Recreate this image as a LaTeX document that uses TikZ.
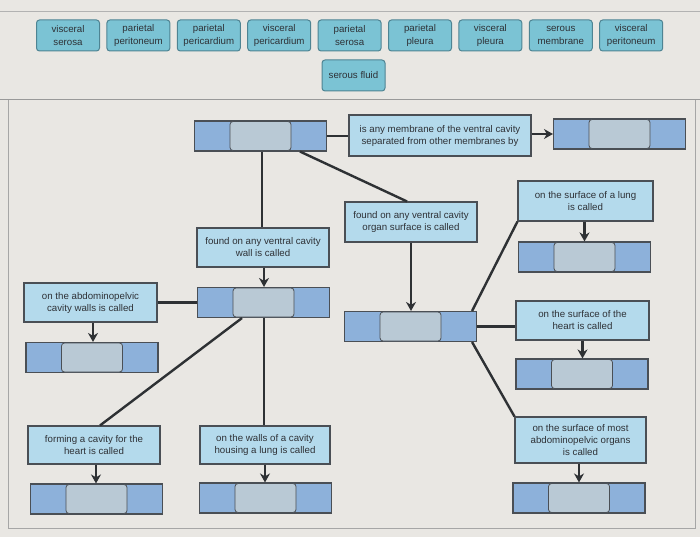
\documentclass[tikz,border=0pt]{standalone}
\usepackage{fontspec}
\setmainfont{Liberation Sans}
\usetikzlibrary{arrows.meta}
\definecolor{bg}{HTML}{E9E7E3}
\definecolor{tilefill}{HTML}{7BC3D4}
\definecolor{tileline}{HTML}{4E8493}
\definecolor{txtfill}{HTML}{B4DAEC}
\definecolor{ansout}{HTML}{8DB1DA}
\definecolor{ansin}{HTML}{B9C9D5}
\definecolor{edge}{HTML}{4A4F55}
\definecolor{wire}{HTML}{2E3134}
\definecolor{ink}{HTML}{2E3136}
\tikzset{
  tile/.style={draw=tileline, fill=tilefill, rounded corners=3pt, line width=1pt,
    minimum width=63pt, minimum height=31pt, inner sep=1pt, align=center,
    font=\fontsize{9.7}{12.5}\selectfont, text=ink},
  txtbox/.style={draw=edge, fill=txtfill, line width=1.1pt, inner sep=1pt, align=center,
    font=\fontsize{9.7}{12}\selectfont, text=ink},
  ansbox/.style={draw=edge, fill=ansout, line width=1.1pt, minimum width=132pt, minimum height=30pt, inner sep=0pt},
  ansinner/.style={draw=edge, fill=ansin, line width=0.8pt, rounded corners=3pt, minimum width=61pt, minimum height=29pt, inner sep=0pt},
  conn/.style={draw=wire, line width=2.4pt},
  arr/.style={draw=wire, line width=2.2pt, -{Stealth[length=9pt,width=10pt]}},
}
\newcommand{\answer}[3]{%
  \node[ansbox] (#1) at (#2,#3) {};
  \node[ansinner] (#1in) at (#2,#3) {};}
\begin{document}
\begin{tikzpicture}[x=1pt,y=-1pt]
\useasboundingbox (0,0) rectangle (700,537);
\fill[bg] (0,0) rectangle (700,537);
\draw[gray!60, line width=0.6pt] (0,11) -- (700,11);
\draw[gray!80, line width=1pt] (0,100) -- (700,100);
\draw[gray!70, line width=0.8pt] (8,100) -- (8,528) -- (695,528) -- (695,100);

% word bank
\node[tile] (w1) at (68,35.5) {visceral\\serosa};
\node[tile] (w2) at (138.4,35.5) {parietal\\peritoneum};
\node[tile] (w3) at (208.8,35.5) {parietal\\pericardium};
\node[tile] (w4) at (279.2,35.5) {visceral\\pericardium};
\node[tile] (w5) at (349.6,35.5) {parietal\\serosa};
\node[tile] (w6) at (420,35.5) {parietal\\pleura};
\node[tile] (w7) at (490.4,35.5) {visceral\\pleura};
\node[tile] (w8) at (560.8,35.5) {serous\\membrane};
\node[tile] (w9) at (631.2,35.5) {visceral\\peritoneum};
\node[tile] (w10) at (353.5,75.5) {serous fluid};

% answer boxes
\answer{A}{260.5}{136}
\answer{B}{619.5}{134}
\answer{C}{410.5}{326.5}
\answer{D}{584.5}{257}
\answer{E}{582}{374}
\answer{F}{579}{498}
\answer{G}{92}{357.5}
\answer{H}{263.5}{302.5}
\answer{I}{96.5}{499}
\answer{J}{265.5}{498}

% text boxes
\node[txtbox, minimum width=182pt, minimum height=41pt] (T1) at (440,135.5) {is any membrane of the ventral cavity\\separated from other membranes by};
\node[txtbox, minimum width=132pt, minimum height=39pt] (T2) at (263,247.5) {found on any ventral cavity\\wall is called};
\node[txtbox, minimum width=132pt, minimum height=40pt] (T3) at (411,222) {found on any ventral cavity\\organ surface is called};
\node[txtbox, minimum width=135pt, minimum height=40pt] (T4) at (585.5,201) {on the surface of a lung\\is called};
\node[txtbox, minimum width=133pt, minimum height=39pt] (T5) at (582.5,320.5) {on the surface of the\\heart is called};
\node[txtbox, minimum width=131pt, minimum height=46pt] (T6) at (580.5,440) {on the surface of most\\abdominopelvic organs\\is called};
\node[txtbox, minimum width=133pt, minimum height=39pt] (T7) at (90.5,302.5) {on the abdominopelvic\\cavity walls is called};
\node[txtbox, minimum width=132pt, minimum height=38pt] (T8) at (94,445) {forming a cavity for the\\heart is called};
\node[txtbox, minimum width=130pt, minimum height=38pt] (T9) at (265,445) {on the walls of a cavity\\housing a lung is called};

% connectors
\draw[conn] (A.east) -- (A.east -| T1.west);
\draw[arr] (T1.east |- B.west) -- (B.west);
\draw[conn] ([xshift=1.5pt]A.south) -- ([xshift=1.5pt]A.south |- T2.north);
\draw[conn] ([xshift=39.5pt]A.south) -- ([xshift=-4pt]T3.north);
\draw[arr] ([xshift=1pt]T2.south) -- ([xshift=1pt]T2.south |- H.north);
\draw[arr] (T3.south) -- (T3.south |- C.north);
\draw[conn] ([xshift=-5pt]C.north east) -- (T4.south west);
\draw[conn] (C.east) -- (C.east -| T5.west);
\draw[conn] ([xshift=-5pt]C.south east) -- (T6.north west);
\draw[arr] ([xshift=-1pt]T4.south) -- ([xshift=-1pt]T4.south |- D.north);
\draw[arr] (T5.south) -- (T5.south |- E.north);
\draw[arr] ([xshift=-1.5pt]T6.south) -- ([xshift=-1.5pt]T6.south |- F.north);
\draw[conn] (T7.east) -- (T7.east -| H.west);
\draw[arr] ([xshift=2.5pt]T7.south) -- ([xshift=2.5pt]T7.south |- G.north);
\draw[conn] ([xshift=-21.5pt]H.south) -- ([xshift=6pt]T8.north);
\draw[conn] ([xshift=0.5pt]H.south) -- ([xshift=0.5pt]H.south |- T9.north);
\draw[arr] ([xshift=2pt]T8.south) -- ([xshift=2pt]T8.south |- I.north);
\draw[arr] (T9.south) -- (T9.south |- J.north);
\end{tikzpicture}
\end{document}
